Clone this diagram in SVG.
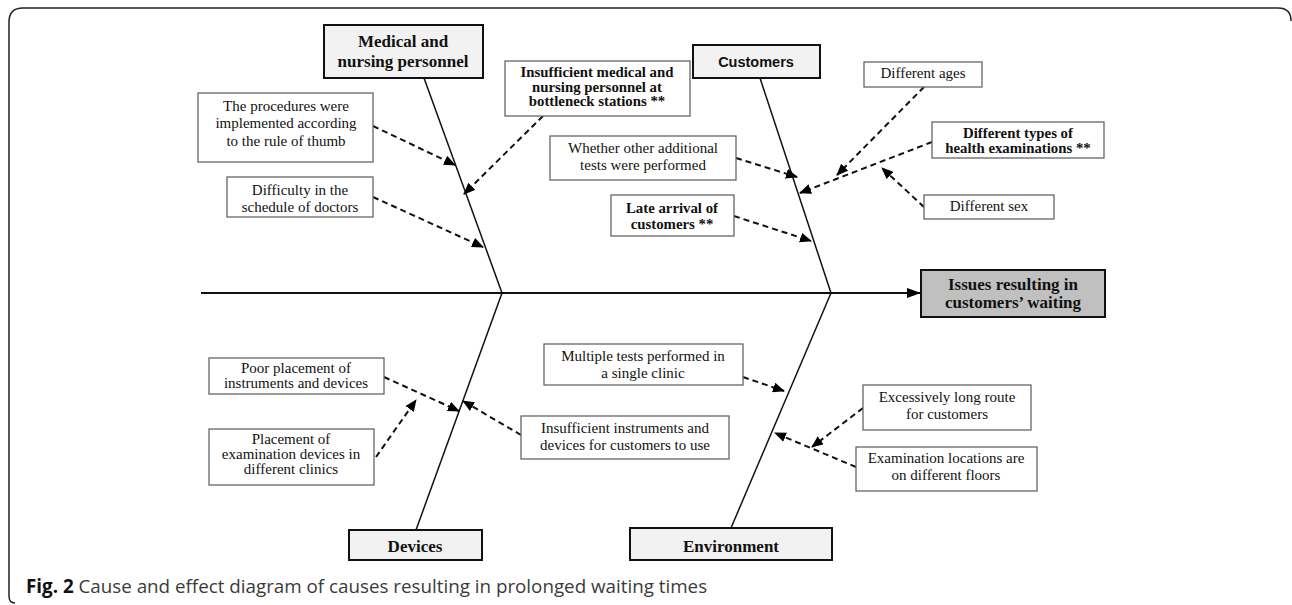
<svg xmlns="http://www.w3.org/2000/svg" width="1292" height="605" viewBox="0 0 1292 605">
<defs>
<marker id="ah" viewBox="0 0 12 10" refX="11" refY="5" markerWidth="12" markerHeight="10" markerUnits="userSpaceOnUse" orient="auto">
<path d="M0,0 L12,5 L0,10 Z" fill="#000"/>
</marker>
<marker id="ahm" viewBox="0 0 14 10" refX="13" refY="5" markerWidth="14" markerHeight="10" markerUnits="userSpaceOnUse" orient="auto">
<path d="M0,0 L14,5 L0,10 Z" fill="#000"/>
</marker>
</defs>
<style>
.frame{fill:none;stroke:#222;stroke-width:1.5}
.cause{fill:#fff;stroke:#666;stroke-width:1.3}
.cat{fill:#f2f2f2;stroke:#111;stroke-width:2}
.eff{fill:#c0c0c0;stroke:#111;stroke-width:2}
.t{font-family:"Liberation Serif",serif;font-size:15px;fill:#111;text-anchor:middle}
.b{font-weight:bold;font-size:14.8px}
.ct{font-family:"Liberation Serif",serif;font-size:17px;font-weight:bold;fill:#111;text-anchor:middle}
.bone{stroke:#111;stroke-width:1.5;fill:none}
.spine{stroke:#111;stroke-width:2.2;fill:none}
.dash{stroke:#111;stroke-width:2;stroke-dasharray:6,4;fill:none;marker-end:url(#ah)}
.cap{font-family:"Open Sans",sans-serif;font-size:18.8px;fill:#3a3a3a}
</style>
<rect width="1292" height="605" fill="#fff"/>
<path class="frame" d="M15,603 Q9,603 9,596 L9,22 Q9,8 23,8 L1278,8 Q1291,8 1291,21"/>

<g id="connectors">
<line class="spine" x1="201" y1="293" x2="920" y2="293" marker-end="url(#ahm)"/>
<line class="bone" x1="424" y1="78" x2="502" y2="293"/>
<line class="bone" x1="760" y1="78" x2="831" y2="293"/>
<line class="bone" x1="416" y1="530" x2="502" y2="293"/>
<line class="bone" x1="731" y1="528" x2="831" y2="293"/>
<line class="dash" x1="373" y1="126" x2="455" y2="165"/>
<line class="dash" x1="373" y1="197" x2="483" y2="247"/>
<line class="dash" x1="543" y1="116" x2="464" y2="194"/>
<line class="dash" x1="736" y1="158" x2="797" y2="177"/>
<line class="dash" x1="734" y1="216" x2="811" y2="241"/>
<line class="dash" x1="924" y1="87" x2="837" y2="175"/>
<line class="dash" x1="932" y1="142" x2="800" y2="193"/>
<line class="dash" x1="924" y1="207" x2="882" y2="168"/>
<line class="dash" x1="384" y1="377" x2="459" y2="411"/>
<line class="dash" x1="376" y1="457" x2="416" y2="400"/>
<line class="dash" x1="521" y1="435" x2="463" y2="401"/>
<line class="dash" x1="743" y1="377" x2="784" y2="391"/>
<line class="dash" x1="863" y1="408" x2="812" y2="447"/>
<line class="dash" x1="856" y1="467" x2="775" y2="433"/>
</g>

<g id="effect">
<rect class="eff" x="921" y="270" width="184" height="47"/>
<text class="ct" x="1013" y="290">Issues resulting in</text>
<text class="ct" x="1013" y="308">customers’ waiting</text>
</g>

<g id="cat-medical">
<rect class="cat" x="324" y="25" width="159" height="53"/>
<text class="ct" x="403" y="47">Medical and</text>
<text class="ct" x="403" y="67">nursing personnel</text>
</g>
<g id="cat-customers">
<rect class="cat" x="693" y="45" width="127" height="33"/>
<text x="756" y="67" style="font-family:'Liberation Sans',sans-serif;font-size:14.5px;font-weight:bold;fill:#111;text-anchor:middle">Customers</text>
</g>
<g id="cat-devices">
<rect class="cat" x="349" y="530" width="133" height="30"/>
<text class="ct" x="415" y="552">Devices</text>
</g>
<g id="cat-environment">
<rect class="cat" x="630" y="528" width="202" height="32"/>
<text class="ct" x="731" y="552">Environment</text>
</g>

<g id="c-procedures">
<rect class="cause" x="198" y="93" width="175" height="69"/>
<text class="t" x="286" y="111">The procedures were</text>
<text class="t" x="286" y="128">implemented according</text>
<text class="t" x="286" y="146">to the rule of thumb</text>
</g>
<g id="c-schedule">
<rect class="cause" x="227" y="177" width="146" height="40"/>
<text class="t" x="300" y="195">Difficulty in the</text>
<text class="t" x="300" y="212">schedule of doctors</text>
</g>
<g id="c-insufficient-personnel">
<rect class="cause" x="505" y="61" width="185" height="55"/>
<text class="t b" x="597" y="77">Insufficient medical and</text>
<text class="t b" x="597" y="92">nursing personnel at</text>
<text class="t b" x="597" y="106">bottleneck stations **</text>
</g>
<g id="c-additional-tests">
<rect class="cause" x="550" y="136" width="186" height="44"/>
<text class="t" x="643" y="153">Whether other additional</text>
<text class="t" x="643" y="170">tests were performed</text>
</g>
<g id="c-late-arrival">
<rect class="cause" x="611" y="195" width="123" height="41"/>
<text class="t b" x="672" y="213">Late arrival of</text>
<text class="t b" x="672" y="229">customers **</text>
</g>
<g id="c-ages">
<rect class="cause" x="864" y="62" width="118" height="25"/>
<text class="t" x="923" y="78">Different ages</text>
</g>
<g id="c-types">
<rect class="cause" x="932" y="122" width="172" height="36"/>
<text class="t b" x="1018" y="138">Different types of</text>
<text class="t b" x="1018" y="153">health examinations **</text>
</g>
<g id="c-sex">
<rect class="cause" x="924" y="195" width="130" height="24"/>
<text class="t" x="989" y="211">Different sex</text>
</g>
<g id="c-poor-placement">
<rect class="cause" x="209" y="358" width="175" height="36"/>
<text class="t" x="296" y="373">Poor placement of</text>
<text class="t" x="296" y="388">instruments and devices</text>
</g>
<g id="c-placement-clinics">
<rect class="cause" x="209" y="429" width="165" height="56"/>
<text class="t" x="291" y="444">Placement of</text>
<text class="t" x="291" y="459">examination devices in</text>
<text class="t" x="291" y="474">different clinics</text>
</g>
<g id="c-insufficient-instruments">
<rect class="cause" x="521" y="416" width="208" height="43"/>
<text class="t" x="625" y="433">Insufficient instruments and</text>
<text class="t" x="625" y="450">devices for customers to use</text>
</g>
<g id="c-multiple-tests">
<rect class="cause" x="544" y="344" width="199" height="41"/>
<text class="t" x="643" y="361">Multiple tests performed in</text>
<text class="t" x="643" y="378">a single clinic</text>
</g>
<g id="c-long-route">
<rect class="cause" x="863" y="385" width="168" height="45"/>
<text class="t" x="947" y="402">Excessively long route</text>
<text class="t" x="947" y="419">for customers</text>
</g>
<g id="c-floors">
<rect class="cause" x="856" y="447" width="181" height="44"/>
<text class="t" x="946" y="463">Examination locations are</text>
<text class="t" x="946" y="480">on different floors</text>
</g>

<text class="cap" x="26" y="593"><tspan font-weight="bold" fill="#111">Fig. 2</tspan> Cause and effect diagram of causes resulting in prolonged waiting times</text>
</svg>
